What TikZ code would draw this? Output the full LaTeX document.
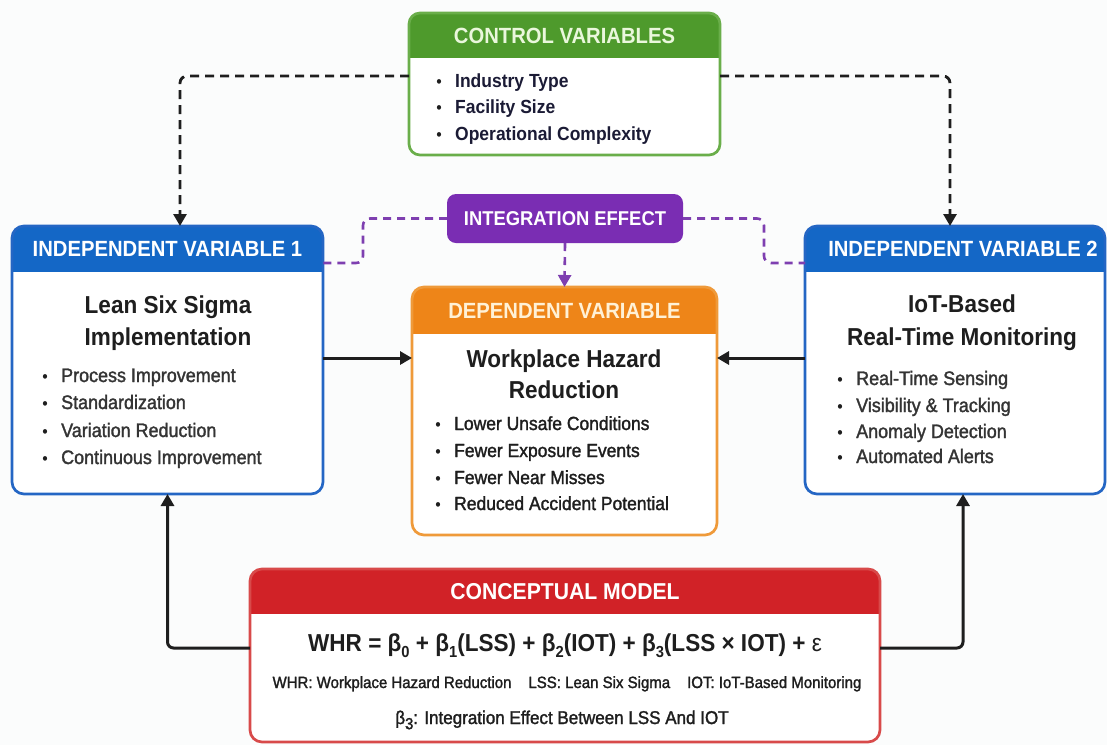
\documentclass[tikz,border=0pt]{standalone}
\usepackage{fontspec}
\setmainfont{Liberation Sans}[FakeStretch=0.92]
\newfontfamily\semib{Liberation Sans}[FakeStretch=0.92,FakeBold=1.6]
\usetikzlibrary{arrows.meta,fit,calc}

\definecolor{bgc}{HTML}{FBFCFC}
\definecolor{grnH}{HTML}{4E9A2C}
\definecolor{grnB}{HTML}{6AAE4A}
\definecolor{grnT}{HTML}{EAF7DC}
\definecolor{bluH}{HTML}{1467C6}
\definecolor{bluB}{HTML}{2466C4}
\definecolor{orgH}{HTML}{EE8518}
\definecolor{orgB}{HTML}{EF9A3A}
\definecolor{orgT}{HTML}{FFF1D6}
\definecolor{purH}{HTML}{7A2DB3}
\definecolor{purL}{HTML}{7E3FB0}
\definecolor{redH}{HTML}{D12227}
\definecolor{redB}{HTML}{D84A4A}
\definecolor{ink}{HTML}{1E1E1E}
\definecolor{txtg}{HTML}{343434}

% box with a coloured header band: name, NW corner, SE corner, band depth, band colour, border colour, radius
\newcommand\panelbox[7]{%
  \path #2 coordinate (#1-nw) #3 coordinate (#1-se);
  \node[fit=(#1-nw)(#1-se), inner sep=0pt, outer sep=0pt] (#1) {};
  \fill[white, rounded corners=#7] (#1.north west) rectangle (#1.south east);
  \begin{scope}
    \clip[rounded corners=#7] (#1.north west) rectangle (#1.south east);
    \fill[#5] (#1.north west) rectangle ([yshift=-#4]#1.north east);
  \end{scope}
  \draw[#6, line width=2.7pt, rounded corners=#7] (#1.north west) rectangle (#1.south east);
}
\newcommand\lowidx[1]{\raisebox{-0.28em}{\fontsize{16}{16}\selectfont #1}}

\tikzset{
  headtxt/.style={font=\bfseries\fontsize{22}{26}\selectfont, inner sep=0pt},
  titletxt/.style={font=\bfseries\fontsize{24.5}{28}\selectfont, text=ink, anchor=base, inner sep=0pt},
  itemtxt/.style={font=\semib\fontsize{19.5}{22}\selectfont, text=txtg, anchor=base west, inner sep=0pt},
  dotmark/.style={font=\fontsize{17}{20}\selectfont, text=ink, anchor=base, inner sep=0pt},
  ctrltxt/.style={font=\bfseries\fontsize{19}{22}\selectfont, text=ink!90!blue, anchor=base west, inner sep=0pt},
  deptxt/.style={font=\semib\fontsize{19}{22}\selectfont, text=ink, anchor=base west, inner sep=0pt},
  blackdash/.style={draw=ink, line width=2.8pt, dash pattern=on 9pt off 6pt, rounded corners=7pt},
  purpledash/.style={draw=purL, line width=2.6pt, dash pattern=on 8pt off 6pt, rounded corners=7pt},
  solidlink/.style={draw=ink, line width=3pt, rounded corners=6pt},
  tip/.style={-{Triangle[length=12pt,width=13pt]}},
}

\begin{document}
\begin{tikzpicture}[x=1pt,y=-1pt]
\useasboundingbox (0,0) rectangle (1107,745);
\fill[bgc] (0,0) rectangle (1107,745);

% ---------- boxes ----------
\panelbox{ctrl}{(409,13)}{(720,155)}{45pt}{grnH}{grnB}{11pt}
\node[headtxt, text=grnT] (ctrlh) at ([yshift=-22.5pt]ctrl.north) {CONTROL VARIABLES};
\foreach \yy/\tt [count=\i] in {87/Industry Type, 113/Facility Size, 140/Operational Complexity}{
  \node[dotmark] (cdot\i) at (439,\yy) {•};
  \node[ctrltxt] (citem\i) at (455,\yy) {\tt};
}

\panelbox{ind1}{(12,226)}{(323,494)}{46pt}{bluH}{bluB}{12pt}
\node[headtxt, text=white] (ind1h) at ([yshift=-23pt]ind1.north) {INDEPENDENT VARIABLE 1};
\node[titletxt] (ind1ta) at (168,313) {Lean Six Sigma};
\node[titletxt] (ind1tb) at (168,345) {Implementation};
\foreach \yy/\tt [count=\i] in {382/Process Improvement, 409/Standardization, 437/Variation Reduction, 464/Continuous Improvement}{
  \node[dotmark] (adot\i) at (45,\yy) {•};
  \node[itemtxt] (aitem\i) at (61,\yy) {\tt};
}

\panelbox{ind2}{(805,226)}{(1105,494)}{46pt}{bluH}{bluB}{12pt}
\node[headtxt, text=white] (ind2h) at (963,249) {INDEPENDENT VARIABLE 2};
\node[titletxt] (ind2ta) at (962,312) {IoT-Based};
\node[titletxt] (ind2tb) at (962,345) {Real-Time Monitoring};
\foreach \yy/\tt [count=\i] in {385/Real-Time Sensing, 412/Visibility \& Tracking, 438/Anomaly Detection, 463/Automated Alerts}{
  \node[dotmark] (bdot\i) at (840,\yy) {•};
  \node[itemtxt] (bitem\i) at (856,\yy) {\tt};
}

\panelbox{dep}{(412,287)}{(717,535)}{47pt}{orgH}{orgB}{12pt}
\node[headtxt, text=orgT] (deph) at ([yshift=-23.5pt]dep.north) {DEPENDENT VARIABLE};
\node[titletxt] (depta) at (564,367) {Workplace Hazard};
\node[titletxt] (deptb) at (564,398) {Reduction};
\foreach \yy/\tt [count=\i] in {430/Lower Unsafe Conditions, 457/Fewer Exposure Events, 484/Fewer Near Misses, 510/Reduced Accident Potential}{
  \node[dotmark] (ddot\i) at (438,\yy) {•};
  \node[deptxt] (ditem\i) at (454,\yy) {\tt};
}

% integration effect tag
\path (447,194) coordinate (integ-nw) (683,243) coordinate (integ-se);
\node[fit=(integ-nw)(integ-se), inner sep=0pt, outer sep=0pt, fill=purH, rounded corners=9pt] (integ) {};
\node[font=\bfseries\fontsize{20}{24}\selectfont, text=white, inner sep=0pt] (integh) at (integ.center) {INTEGRATION EFFECT};

\panelbox{model}{(250,569)}{(880,742)}{45pt}{redH}{redB}{12pt}
\node[headtxt, text=white, font=\bfseries\fontsize{23}{26}\selectfont] (modelh) at ([yshift=-22.5pt]model.north) {CONCEPTUAL MODEL};
\node[font=\bfseries\fontsize{24.5}{28}\selectfont, text=ink, anchor=base, inner sep=0pt] (eq) at (565,651)
  {WHR = β\lowidx{0} + β\lowidx{1}(LSS) + β\lowidx{2}(IOT) + β\lowidx{3}(LSS × IOT) + {\mdseries ε}};
\node[font=\semib\fontsize{16.3}{19}\selectfont, text=ink, anchor=base, inner sep=0pt] (legend) at (567,688)
  {WHR: Workplace Hazard Reduction\hspace{17pt}LSS: Lean Six Sigma\hspace{17pt}IOT: IoT-Based Monitoring};
\node[font=\semib\fontsize{18.5}{21}\selectfont, text=ink, anchor=base, inner sep=0pt] (betanote) at (562,724)
  {β\lowidx{3}: Integration Effect Between LSS And IOT};

% ---------- connectors ----------
% control variables feed both independent variables
\draw[blackdash, tip] ([yshift=-63pt]ctrl.north west) -| ([xshift=168pt]ind1.north west);
\draw[blackdash, tip] ([yshift=-63pt]ctrl.north east) -| ([xshift=145pt]ind2.north west);

% integration effect links
\coordinate (jl) at (363,241);
\coordinate (jr) at (764,241);
\draw[purpledash] (integ.west) -| (jl) |- ([yshift=-37pt]ind1.north east);
\draw[purpledash] (integ.east) -| (jr) |- ([yshift=-37pt]ind2.north west);
\draw[purpledash, tip, rounded corners=0pt] (integ.south) -- (dep.north);

% main effects
\coordinate (m1) at ([yshift=-132pt]ind1.north east);
\coordinate (m2) at ([yshift=-132pt]ind2.north west);
\draw[solidlink, tip] (m1) -- (m1 -| dep.west);
\draw[solidlink, tip] (m2) -- (m2 -| dep.east);

% model feeds back to the independent variables
\coordinate (mL) at ([yshift=-79pt]model.north west);
\coordinate (mR) at ([yshift=-79pt]model.north east);
\draw[solidlink, tip] (mL) -| (ind1.south);
\draw[solidlink, tip] (mR) -| ([xshift=8pt]ind2.south);
\end{tikzpicture}
\end{document}
